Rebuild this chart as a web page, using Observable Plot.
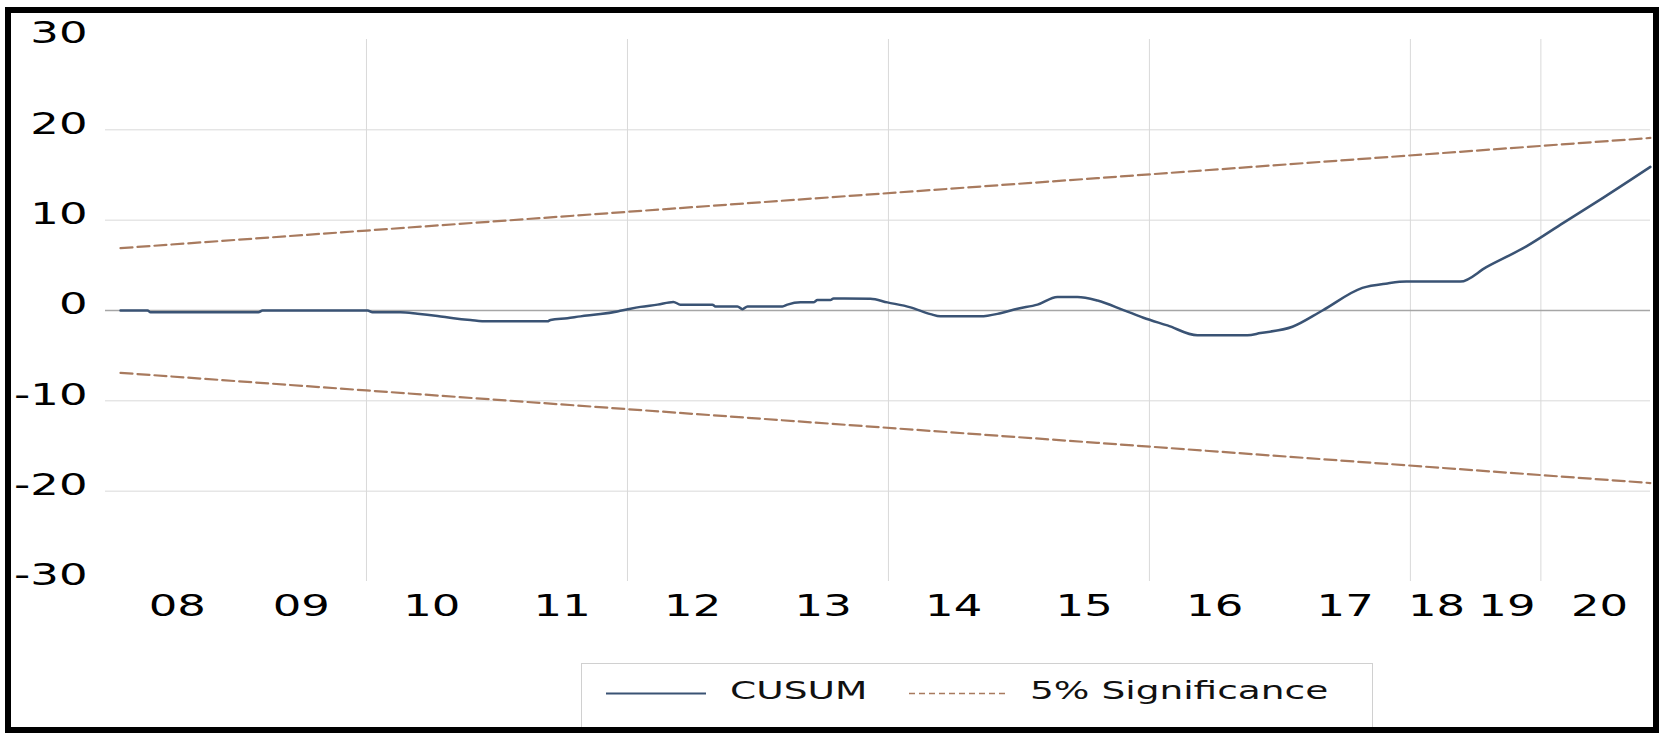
<!DOCTYPE html>
<html>
<head>
<meta charset="utf-8">
<script src="https://cdn.jsdelivr.net/npm/d3@7"></script>
<script src="https://cdn.jsdelivr.net/npm/@observablehq/plot@0.6"></script>
<style>
  body { margin: 0; background: #fff; }
  #wrap { position: relative; width: 1665px; height: 736px; font-family: "DejaVu Sans", sans-serif; background:#fff; }
  #border { position: absolute; left: 5px; top: 7px; width: 1654px; height: 726px; box-sizing: border-box; border: 6px solid #000; pointer-events: none; }
  #legend { position: absolute; left: 581px; top: 663px; width: 792px; height: 70px; box-sizing: border-box; border: 1px solid #d0d0d0; border-bottom: none; }
  .lg-text { position: absolute; top: 14px; font-size: 25px; line-height: 25px; color: #111; transform: scaleX(1.5); transform-origin: left center; white-space: nowrap; }
  .lg-line { position: absolute; top: 28px; }
</style>
</head>
<body>
<div id="wrap">
  <div id="chart"></div>
  <div id="legend">
    <svg class="lg-line" style="left:24px" width="100" height="3"><line x1="0" x2="100" y1="1.5" y2="1.5" stroke="#3a5374" stroke-width="2"/></svg>
    <div class="lg-text" style="left:148px">CUSUM</div>
    <svg class="lg-line" style="left:327px" width="96" height="3"><line x1="0" x2="96" y1="1.5" y2="1.5" stroke="#a87a5e" stroke-width="1.6" stroke-dasharray="6,4"/></svg>
    <div class="lg-text" style="left:448px">5% Significance</div>
  </div>
  <div id="border"></div>
</div>
<script>
// x positions are in "year-like" observation units of the original axis
const cusumT = [8.115, 8.322, 8.345, 9.172, 9.203, 10.008, 10.046, 10.261, 10.391, 10.544, 10.667, 10.797, 10.927, 11.387, 11.410, 11.540, 11.640, 11.793, 11.923, 12.023, 12.100, 12.230, 12.352, 12.406, 12.651, 12.674, 12.843, 12.881, 12.920, 13.188, 13.226, 13.326, 13.425, 13.456, 13.556, 13.579, 13.862, 13.992, 14.169, 14.322, 14.398, 14.705, 14.858, 14.989, 15.142, 15.295, 15.448, 15.602, 15.801, 15.954, 16.138, 16.368, 16.751, 16.851, 17.096, 17.326, 17.632, 17.824, 17.969, 18.383, 18.582, 18.889, 19.172, 19.479, 19.839];
const cusumV = [0.0, 0.0, -0.2, -0.2, 0.0, 0.0, -0.2, -0.2, -0.35, -0.6, -0.85, -1.05, -1.2, -1.2, -1.05, -0.85, -0.65, -0.4, -0.1, 0.2, 0.4, 0.65, 0.95, 0.65, 0.65, 0.45, 0.45, 0.15, 0.45, 0.45, 0.65, 0.9, 0.9, 1.15, 1.15, 1.33, 1.3, 0.9, 0.35, -0.4, -0.65, -0.65, -0.3, 0.2, 0.65, 1.5, 1.5, 1.1, 0.05, -0.8, -1.65, -2.75, -2.75, -2.5, -1.8, 0.0, 2.5, 3.0, 3.2, 3.2, 4.8, 7.1, 9.7, 12.5, 15.9];
const boundT = [8.115, 10.0, 15.6, 19.839];
const upperV = [6.9, 8.85, 14.65, 19.1];
const lowerV = [-6.9, -8.85, -14.65, -19.1];
const yTicks = [30, 20, 10, 0, -10, -20, -30];
const yTickLabels = ["30", "20", "10", "0", "-10", "-20", "-30"];
const xTickPos = [8.55, 9.5, 10.5, 11.5, 12.5, 13.5, 14.5, 15.5, 16.5, 17.5, 18.2, 18.74, 19.45];
const xTickLabels = ["08", "09", "10", "11", "12", "13", "14", "15", "16", "17", "18", "19", "20"];
const hGrid = [20, 10, -10, -20];
const vGrid = [10, 12, 14, 16, 18, 19];

const cusum = cusumT.map((t, i) => ({t, v: cusumV[i]}));
const upper = boundT.map((t, i) => ({t, v: upperV[i]}));
const lower = boundT.map((t, i) => ({t, v: lowerV[i]}));
const yLab = yTicks.map((v, i) => ({v, label: yTickLabels[i]}));
const xLab = xTickPos.map((t, i) => ({t, label: xTickLabels[i]}));

const chart = Plot.plot({
  width: 1665, height: 736,
  marginLeft: 105, marginRight: 15, marginTop: 39, marginBottom: 155,
  x: {domain: [8, 19.84], axis: null},
  y: {domain: [-30, 30], axis: null},
  style: {background: "transparent", fontFamily: "DejaVu Sans, sans-serif", color: "#000"},
  marks: [
    Plot.ruleY(hGrid, {stroke: "#d9d9d9", strokeWidth: 1}),
    Plot.ruleX(vGrid, {y1: -30, y2: 30, stroke: "#d9d9d9", strokeWidth: 1}),
    Plot.ruleY([0], {stroke: "#a6a6a6", strokeWidth: 1.5}),
    Plot.line(upper, {x: "t", y: "v", stroke: "#a87a5e", strokeWidth: 2.2, strokeDasharray: "12,5"}),
    Plot.line(lower, {x: "t", y: "v", stroke: "#a87a5e", strokeWidth: 2.2, strokeDasharray: "12,5"}),
    Plot.line(cusum, {x: "t", y: "v", stroke: "#3a5374", strokeWidth: 2.5, curve: "monotone-x"}),
    Plot.text(yLab, {y: "v", text: "label", frameAnchor: "left", textAnchor: "end", dx: -18, dy: -6, fontSize: 31, fill: "#000"}),
    Plot.text(xLab, {x: "t", text: "label", frameAnchor: "bottom", dy: 34, fontSize: 31, fill: "#000"})
  ]
});
chart.querySelectorAll("text").forEach(t => {
  const tr = t.getAttribute("transform");
  if (tr) {
    t.setAttribute("transform", tr + " scale(1.45,1)");
  } else {
    const x = +t.getAttribute("x") || 0, y = +t.getAttribute("y") || 0;
    t.removeAttribute("x"); t.removeAttribute("y");
    t.setAttribute("transform", `translate(${x},${y}) scale(1.45,1)`);
  }
});
document.getElementById("chart").appendChild(chart);
</script>
</body>
</html>
